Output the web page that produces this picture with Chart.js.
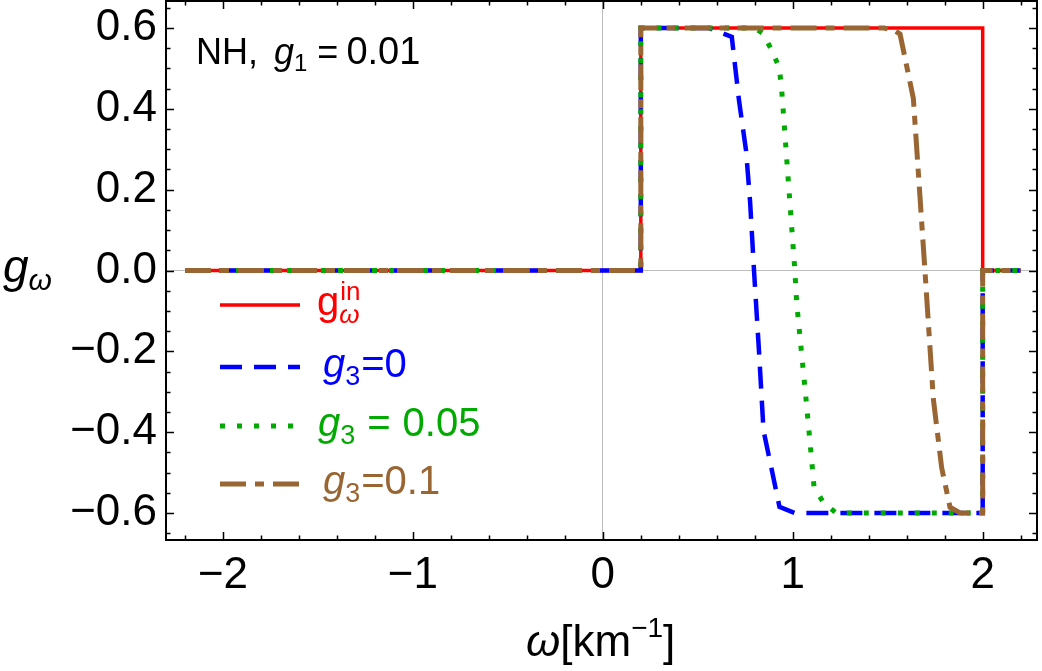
<!DOCTYPE html>
<html>
<head>
<meta charset="utf-8">
<title>g_omega vs omega</title>
<script src="https://cdn.jsdelivr.net/npm/chart.js@4.4.1/dist/chart.umd.min.js"></script>
<style>
  html, body { margin: 0; padding: 0; background: #fff; }
  #wrap { width: 1042px; height: 671px; }
</style>
</head>
<body>
<div id="wrap"><canvas id="chart" width="1042" height="671"></canvas></div>
<script>
// g_omega spectra, NH, g1 = 0.01

const FONT = '"Liberation Sans", Arial, Helvetica, sans-serif';

// axis ranges and ticks
const xMin = -2.3, xMax = 2.286;
const yMin = -0.667, yMax = 0.667;
const xTicks = [-2, -1, 0, 1, 2];
const yTicks = [-0.6, -0.4, -0.2, 0, 0.2, 0.4, 0.6];

// initial spectrum g_omega^in
const gInX = [-2.2, 0.2, 0.2, 2.0, 2.0, 2.2];
const gInY = [0, 0, 0.6, 0.6, 0, 0];

// g3 = 0
const g3ZeroX = [-2.2, 0.2, 0.2, 0.56, 0.679, 0.717, 0.754, 0.775, 0.796, 0.822, 0.846, 0.888, 0.93, 1.01, 2.0, 2.0, 2.2];
const g3ZeroY = [0, 0, 0.6, 0.6, 0.578, 0.421, 0.297, 0.173, 0.0, -0.198, -0.396, -0.49, -0.585, -0.6, -0.6, 0, 0];

// g3 = 0.05
const g3MidX = [-2.2, 0.2, 0.2, 0.80, 0.845, 0.889, 0.928, 0.94, 1.011, 1.021, 1.068, 1.095, 1.112, 1.161, 1.228, 2.0, 2.0, 2.2];
const g3MidY = [0, 0, 0.6, 0.6, 0.586, 0.545, 0.503, 0.458, 0.0, -0.082, -0.309, -0.446, -0.536, -0.574, -0.6, -0.6, 0, 0];

// g3 = 0.1
const g3HighX = [-2.2, 0.2, 0.2, 1.48, 1.53, 1.565, 1.635, 1.696, 1.74, 1.784, 1.828, 1.881, 2.0, 2.0, 2.2];
const g3HighY = [0, 0, 0.6, 0.6, 0.596, 0.585, 0.426, 0.0, -0.317, -0.488, -0.586, -0.6, -0.6, 0, 0];

const toPoints = (xs, ys) => xs.map((x, i) => ({ x: x, y: ys[i] }));

const fmtTick = v => {
    if (v === 0) return '0';
    return (v < 0 ? '\u2212' : '') + Math.abs(v);
};
const fmtYTick = v => {
    if (Math.abs(v) < 1e-9) return '0.0';
    return (v < 0 ? '\u2212' : '') + Math.abs(v).toFixed(1);
};

// draw a run of text pieces (normal / italic / sub / sup)
function drawRuns(ctx, x, y, runs) {
    for (const r of runs) {
        ctx.font = (r.italic ? 'italic ' : '') + r.size + 'px ' + FONT;
        ctx.fillStyle = r.color;
        ctx.textAlign = 'left';
        ctx.textBaseline = 'alphabetic';
        ctx.fillText(r.text, x + (r.dx || 0), y + (r.dy || 0));
        if (!r.noAdvance) x += (r.dx || 0) + ctx.measureText(r.text).width + (r.gap || 0);
    }
    return x;
}

// frame with inward ticks, legend, labels
const framePlugin = {
    id: 'frameTicks',
    afterDraw(chart) {
        const ctx = chart.ctx;
        const a = chart.chartArea;
        const xs = chart.scales.x, ys = chart.scales.y;
        ctx.save();
        ctx.strokeStyle = '#000';

        // ticks
        ctx.lineWidth = 1.5;
        ctx.beginPath();
        for (let i = -11; i <= 11; i++) {
            const v = i / 5;
            const px = Math.round(xs.getPixelForValue(v)) + 0.5;
            const len = (i % 5 === 0) ? 8 : 4.5;
            ctx.moveTo(px, a.bottom); ctx.lineTo(px, a.bottom - len);
            ctx.moveTo(px, a.top); ctx.lineTo(px, a.top + len);
        }
        for (let i = -13; i <= 13; i++) {
            const v = i * 0.05;
            const py = Math.round(ys.getPixelForValue(v)) + 0.5;
            const len = (i % 4 === 0) ? 8 : 4.5;
            ctx.moveTo(a.left, py); ctx.lineTo(a.left + len, py);
            ctx.moveTo(a.right, py); ctx.lineTo(a.right - len, py);
        }
        ctx.stroke();

        // frame
        ctx.lineWidth = 2;
        ctx.strokeRect(a.left, a.top, a.right - a.left, a.bottom - a.top);

        // annotation
        drawRuns(ctx, 196, 64, [
            { text: 'NH, ', size: 36, color: '#000', gap: 6 },
            { text: 'g', size: 36, italic: true, color: '#000' },
            { text: '1', size: 24, color: '#000', dy: 7, gap: 10 },
            { text: '=', size: 36, color: '#000', gap: 8 },
            { text: '0.01', size: 38, color: '#000' }
        ]);

        // legend
        const legend = [
            { y: 305, color: '#ff0000', width: 3.5, dash: [] },
            { y: 367, color: '#0000ff', width: 4.5, dash: [22, 12] },
            { y: 426, color: '#00aa00', width: 5, dash: [5, 12] },
            { y: 484, color: '#996633', width: 5, dash: [26, 9, 9, 9] }
        ];
        legend.forEach(l => {
            ctx.beginPath();
            ctx.lineWidth = l.width;
            ctx.strokeStyle = l.color;
            ctx.setLineDash(l.dash);
            ctx.moveTo(220, l.y);
            ctx.lineTo(300, l.y);
            ctx.stroke();
        });
        ctx.setLineDash([]);

        const red = '#ff0000', blue = '#0000ff', green = '#00aa00', brown = '#996633';
        drawRuns(ctx, 317, 315, [
            { text: 'g', size: 40, color: red },
            { text: 'in', size: 26, color: red, dy: -15, noAdvance: true, dx: 1 },
            { text: '\u03c9', size: 26, italic: true, color: red, dy: 8 }
        ]);
        drawRuns(ctx, 323, 377, [
            { text: 'g', size: 40, italic: true, color: blue },
            { text: '3', size: 27, color: blue, dy: 8, gap: 1 },
            { text: '=0', size: 40, color: blue }
        ]);
        drawRuns(ctx, 318, 436, [
            { text: 'g', size: 40, italic: true, color: green },
            { text: '3', size: 27, color: green, dy: 8, gap: 12 },
            { text: '=', size: 40, color: green, gap: 12 },
            { text: '0.05', size: 40, color: green }
        ]);
        drawRuns(ctx, 323, 494, [
            { text: 'g', size: 40, italic: true, color: brown },
            { text: '3', size: 27, color: brown, dy: 8, gap: 1 },
            { text: '=0.1', size: 40, color: brown }
        ]);

        // axis titles
        drawRuns(ctx, 3, 282, [
            { text: 'g', size: 46, italic: true, color: '#000' },
            { text: '\u03c9', size: 30, italic: true, color: '#000', dy: 8 }
        ]);
        drawRuns(ctx, 526, 656, [
            { text: '\u03c9', size: 44, italic: true, color: '#000' },
            { text: '[km', size: 44, color: '#000' },
            { text: '\u22121', size: 28, color: '#000', dy: -19 },
            { text: ']', size: 44, color: '#000' }
        ]);

        ctx.restore();
    }
};

const zeroLine = c => (c.tick && Math.abs(c.tick.value) < 1e-9) ? '#bdbdbd' : 'rgba(0,0,0,0)';

new Chart(document.getElementById('chart').getContext('2d'), {
    type: 'scatter',
    data: {
        datasets: [
            { label: 'g_in', data: toPoints(gInX, gInY), borderColor: '#ff0000', borderWidth: 3.5, order: 4 },
            { label: 'g3=0', data: toPoints(g3ZeroX, g3ZeroY), borderColor: '#0000ff', borderWidth: 4.5, borderDash: [22, 12], order: 3 },
            { label: 'g3=0.05', data: toPoints(g3MidX, g3MidY), borderColor: '#00aa00', borderWidth: 5, borderDash: [5, 12], order: 2 },
            { label: 'g3=0.1', data: toPoints(g3HighX, g3HighY), borderColor: '#996633', borderWidth: 5, borderDash: [26, 9, 9, 9], order: 1 }
        ].map(d => Object.assign(d, { showLine: true, pointRadius: 0, fill: false, tension: 0, borderJoinStyle: 'miter' }))
    },
    options: {
        responsive: false,
        animation: false,
        layout: { padding: { top: 1, right: 5, left: 0, bottom: 0 } },
        plugins: { legend: { display: false }, tooltip: { enabled: false } },
        scales: {
            x: {
                type: 'linear', min: xMin, max: xMax,
                afterBuildTicks: s => { s.ticks = xTicks.map(v => ({ value: v })); },
                afterFit: s => { s.height = 131; s.paddingLeft = 0; s.paddingRight = 0; },
                grid: { color: zeroLine, lineWidth: 1, drawTicks: false },
                border: { display: false },
                ticks: { font: { family: FONT, size: 44 }, color: '#000', padding: 9, maxRotation: 0, autoSkip: false, callback: fmtTick }
            },
            y: {
                type: 'linear', min: yMin, max: yMax,
                afterBuildTicks: s => { s.ticks = yTicks.map(v => ({ value: v })); },
                afterFit: s => { s.width = 166; s.paddingTop = 0; s.paddingBottom = 0; },
                grid: { color: zeroLine, lineWidth: 1, drawTicks: false },
                border: { display: false },
                ticks: { font: { family: FONT, size: 44 }, color: '#000', padding: 9, autoSkip: false, callback: fmtYTick }
            }
        }
    },
    plugins: [framePlugin]
});
</script>
</body>
</html>
